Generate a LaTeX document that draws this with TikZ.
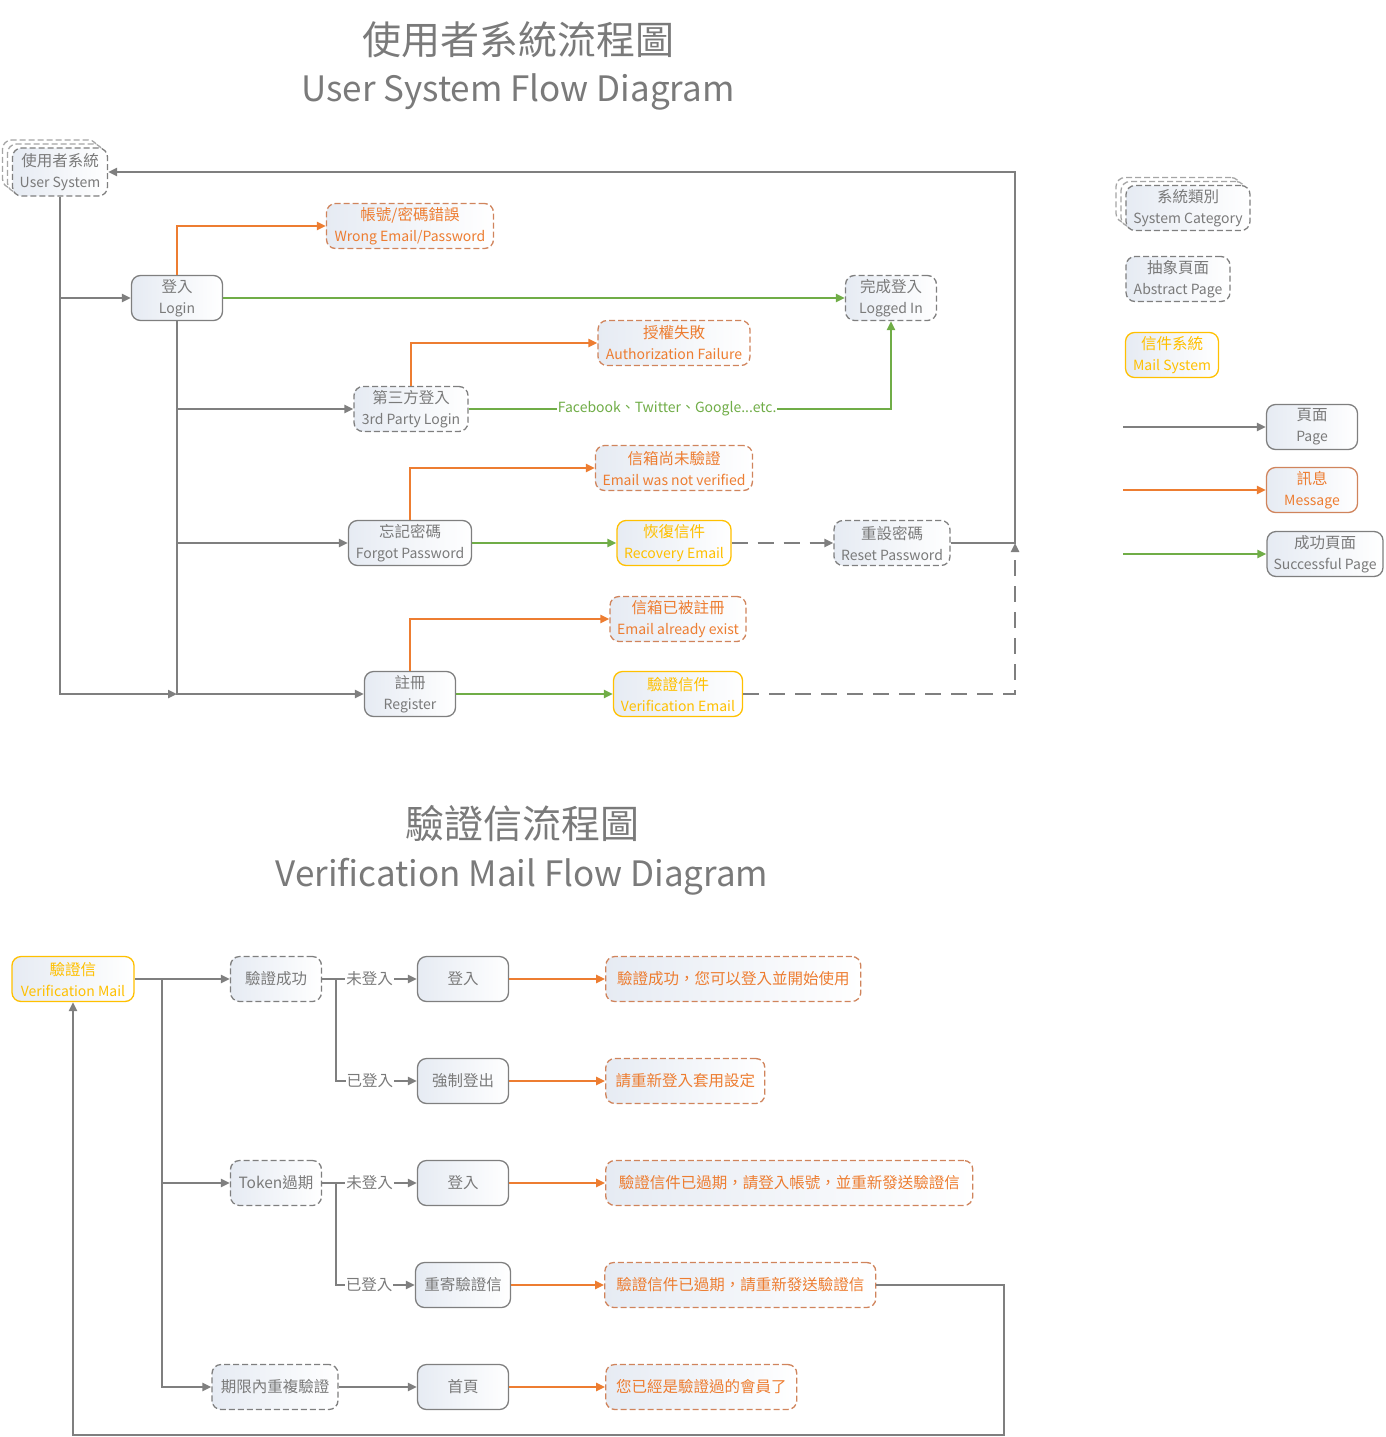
\documentclass[tikz,border=0pt]{standalone}
\usepackage{fontspec}
\setmainfont{Noto Sans CJK TC}
\usepackage{xcolor}
\usepackage{tikz}
\usetikzlibrary{arrows.meta,positioning,shadows}
\definecolor{linegray}{RGB}{127,127,127}
\definecolor{textgray}{RGB}{122,122,122}
\definecolor{msgorange}{RGB}{237,125,49}
\definecolor{msgline}{RGB}{208,132,92}
\definecolor{okgreen}{RGB}{112,173,71}
\definecolor{mailgold}{RGB}{255,192,0}
\definecolor{boxfill}{RGB}{230,235,243}
\newcommand{\boxfont}{\fontsize{14}{21}\selectfont}
\newcommand{\cn}{\fontsize{15.5}{21}\selectfont}
\tikzset{
  flow/.style={-{Triangle[length=9pt,width=8pt]},line width=2.7pt,draw=linegray},
  msgflow/.style={flow,draw=msgorange},
  okflow/.style={flow,draw=okgreen},
  dashline/.style={dash pattern=on 16pt off 10pt},
  pagebox/.style={draw=linegray,line width=1.3pt,rounded corners=9pt,left color=boxfill,right color=white,align=center,font=\boxfont,text=textgray,minimum height=45pt,minimum width=91pt,inner xsep=6pt},
  absbox/.style={pagebox,dash pattern=on 6pt off 3pt},
  msgbox/.style={absbox,draw=msgline,text=msgorange},
  mailbox/.style={pagebox,draw=mailgold,text=mailgold},
  stackbox/.style={absbox,
    general shadow={shadow xshift=-10pt,shadow yshift=8pt,fill=white,draw=linegray!70,line width=1.3pt,dash pattern=on 6pt off 3pt},
    general shadow={shadow xshift=-5pt,shadow yshift=4pt,fill=white,draw=linegray!70,line width=1.3pt,dash pattern=on 6pt off 3pt}},
  headcn/.style={text=textgray,font=\fontsize{39}{44}\selectfont},
  headen/.style={text=textgray,font=\fontsize{35}{42}\selectfont},
  tag/.style={fill=white,text=textgray,font=\cn,inner sep=1pt}
}
\begin{document}
\begin{tikzpicture}[x=1pt,y=-1pt,node distance=96pt]
  \useasboundingbox (0,0) rectangle (1385,1437);
  % user system flow
  \node[headcn] (headuser) at (518,40) {使用者系統流程圖};
  \node[headen] (headuseren) at (518,92) {User System Flow Diagram};
  \node[stackbox,minimum width=95pt,minimum height=48pt] (usys) at (60,172) {{\cn 使用者系統}\\User System};
  \node[pagebox] (login) at (177,298) {{\cn 登入}\\Login};
  \node[msgbox,minimum width=167pt] (wrong) at (410,226) {{\cn 帳號/密碼錯誤}\\Wrong Email/Password};
  \node[absbox] (logged) at (891,298) {{\cn 完成登入}\\Logged In};
  \node[msgbox,minimum width=152pt] (authfail) at (674,343) {{\cn 授權失敗}\\Authorization Failure};
  \node[absbox,minimum width=114pt] (third) at (411,409) {{\cn 第三方登入}\\3rd Party Login};
  \node[msgbox,minimum width=157pt] (unverified) at (674,468) {{\cn 信箱尚未驗證}\\Email was not verified};
  \node[pagebox,minimum width=123pt] (forgot) at (410,543) {{\cn 忘記密碼}\\Forgot Password};
  \node[mailbox,minimum width=114pt] (recovery) at (674,543) {{\cn 恢復信件}\\Recovery Email};
  \node[absbox,minimum width=116pt] (reset) at (892,543) {{\cn 重設密碼}\\Reset Password};
  \node[msgbox,minimum width=136pt] (taken) at (678,619) {{\cn 信箱已被註冊}\\Email already exist};
  \node[pagebox] (register) at (410,694) {{\cn 註冊}\\Register};
  \node[mailbox,minimum width=129pt] (verifymail) at (678,694) {{\cn 驗證信件}\\Verification Email};
  \coordinate (regjoin) at (login.south |- register.west);
  \coordinate (loopback) at (1015,543);
  \draw[flow] (usys.south) |- (login.west);
  \draw[flow] (usys.south) |- (regjoin);
  \draw[flow] (login.south) |- (third.west);
  \draw[flow] (login.south) |- (forgot.west);
  \draw[flow] (login.south) |- (register.west);
  \draw[msgflow] (login.north) |- (wrong.west);
  \draw[okflow] (login) -- (logged);
  \draw[msgflow] (third.north) |- (authfail.west);
  \draw[okflow] (third.east) -| node[pos=0.235,fill=white,text=okgreen,inner sep=1pt,font=\fontsize{14}{16}\selectfont] {Facebook、Twitter、Google...etc.} (logged.south);
  \draw[msgflow] (forgot.north) |- (unverified.west);
  \draw[okflow] (forgot) -- (recovery);
  \draw[flow,dashline] (recovery) -- (reset);
  \draw[flow] (reset.east) -- (loopback) |- (usys.east);
  \draw[msgflow] (register.north) |- (taken.west);
  \draw[okflow] (register) -- (verifymail);
  \draw[flow,dashline] (verifymail.east) -| (loopback);
  % legend
  \node[stackbox,minimum width=124pt] (legcat) at (1188,208) {{\cn 系統類別}\\System Category};
  \node[absbox,minimum width=104pt] (legabs) at (1178,279) {{\cn 抽象頁面}\\Abstract Page};
  \node[mailbox,minimum width=93pt] (legmail) at (1172,355) {{\cn 信件系統}\\Mail System};
  \node[pagebox] (legpage) at (1312,427) {{\cn 頁面}\\Page};
  \node[pagebox,draw=msgline,text=msgorange] (legmsg) at (1312,490) {{\cn 訊息}\\Message};
  \node[pagebox,minimum width=116pt] (legok) at (1325,554) {{\cn 成功頁面}\\Successful Page};
  \coordinate (legpagetail) at (1123,427);
  \coordinate (legmsgtail) at (1123,490);
  \coordinate (legoktail) at (1123,554);
  \draw[flow] (legpagetail) -- (legpage);
  \draw[msgflow] (legmsgtail) -- (legmsg);
  \draw[okflow] (legoktail) -- (legok);
  % verification mail flow
  \node[headcn] (headmail) at (522,824) {驗證信流程圖};
  \node[headen] (headmailen) at (522,877) {Verification Mail Flow Diagram};
  \node[mailbox,minimum width=122pt] (vmail) at (73,979) {{\cn 驗證信}\\Verification Mail};
  \node[absbox,font=\cn] (vdone) at (276,979) {驗證成功};
  \node[pagebox,font=\cn] (vlogin) at (463,979) {登入};
  \node[msgbox,font=\cn,minimum width=255pt,right=of vlogin] (vloginmsg) {驗證成功，您可以登入並開始使用};
  \node[pagebox,font=\cn] (vlogout) at (463,1081) {強制登出};
  \node[msgbox,font=\cn,minimum width=159pt,right=of vlogout] (vlogoutmsg) {請重新登入套用設定};
  \node[absbox,font=\cn] (vtoken) at (276,1183) {Token過期};
  \node[pagebox,font=\cn] (tlogin) at (463,1183) {登入};
  \node[msgbox,font=\cn,minimum width=367pt,right=of tlogin] (tloginmsg) {驗證信件已過期，請登入帳號，並重新發送驗證信};
  \node[pagebox,font=\cn,minimum width=95pt] (tresend) at (463,1285) {重寄驗證信};
  \node[msgbox,font=\cn,minimum width=271pt,right=93pt of tresend] (tresendmsg) {驗證信件已過期，請重新發送驗證信};
  \node[absbox,font=\cn,minimum width=126pt] (vrepeat) at (275,1387) {期限內重複驗證};
  \node[pagebox,font=\cn] (vhome) at (463,1387) {首頁};
  \node[msgbox,font=\cn,minimum width=191pt,right=of vhome] (vhomemsg) {您已經是驗證過的會員了};
  \coordinate (vtrunk) at (162,979);
  \coordinate (donefork) at (336,979);
  \coordinate (tokenfork) at (336,1183);
  \coordinate (resendback) at (1004,1435);
  \draw[flow] (vmail) -- (vdone);
  \draw[flow] (vtrunk) |- (vtoken);
  \draw[flow] (vtrunk) |- (vrepeat);
  \draw[flow] (vdone) -- node[tag] {未登入} (vlogin);
  \draw[flow] (donefork) |- node[tag,pos=0.71] {已登入} (vlogout);
  \draw[flow] (vtoken) -- node[tag] {未登入} (tlogin);
  \draw[flow] (tokenfork) |- node[tag,pos=0.71] {已登入} (tresend);
  \draw[flow] (vrepeat) -- (vhome);
  \draw[msgflow] (vlogin) -- (vloginmsg);
  \draw[msgflow] (vlogout) -- (vlogoutmsg);
  \draw[msgflow] (tlogin) -- (tloginmsg);
  \draw[msgflow] (tresend) -- (tresendmsg);
  \draw[msgflow] (vhome) -- (vhomemsg);
  \draw[flow] (tresendmsg.east) -| (resendback) -| (vmail.south);
\end{tikzpicture}
\end{document}
